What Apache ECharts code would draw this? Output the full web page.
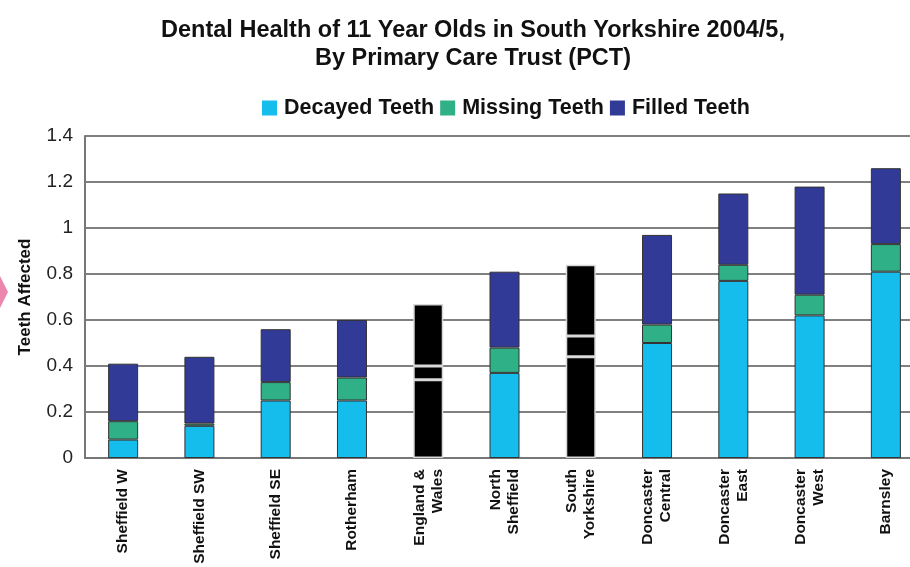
<!DOCTYPE html>
<html>
<head>
<meta charset="utf-8">
<script src="https://cdn.jsdelivr.net/npm/echarts@6/dist/echarts.min.js"></script>
<style>html,body{margin:0;padding:0;background:#fff;overflow:hidden;width:910px;height:567px;}#c{width:924px;height:567px;}</style>
</head>
<body>
<div id="c"></div>
<script>
const categories = ['Sheffield W','Sheffield SW','Sheffield SE','Rotherham','England &\nWales','North\nSheffield','South\nYorkshire','Doncaster\nCentral','Doncaster\nEast','Doncaster\nWest','Barnsley'];
const decayed = [0.08, 0.14, 0.25, 0.25, 0.34, 0.37, 0.44, 0.50, 0.77, 0.62, 0.81];
const missing = [0.08, 0.01, 0.08, 0.10, 0.06, 0.11, 0.09, 0.08, 0.07, 0.09, 0.12];
const filled  = [0.25, 0.29, 0.23, 0.25, 0.27, 0.33, 0.31, 0.39, 0.31, 0.47, 0.33];
const highlighted = ['England &\nWales', 'South\nYorkshire'];
const yTicks = [0, 0.2, 0.4, 0.6, 0.8, 1, 1.2, 1.4];

const colors = {decayed:'#14bdec', missing:'#2fb086', filled:'#313a97'};
const FONT = 'Liberation Sans, Arial, Helvetica';

function build(vals){
  return vals.map((v,i)=> highlighted.includes(categories[i])
    ? {value:v, itemStyle:{color:'#000', borderColor:'#d8d8d8', borderWidth:1.5}}
    : v);
}
function mkSeries(name, vals, color){
  return {name, type:'bar', stack:'t', data:build(vals), barWidth:30,
    itemStyle:{color, borderColor:'#333', borderWidth:1}};
}

const chart = echarts.init(document.getElementById('c'));
chart.setOption({
  animation:false,
  title:{text:'Dental Health of 11 Year Olds in South Yorkshire 2004/5,\nBy Primary Care Trust (PCT)',
    left:468, top:12, textAlign:'center',
    textStyle:{fontFamily:FONT, fontWeight:'bold', fontSize:23.5, color:'#111', lineHeight:28}},
  legend:{top:92, left:257, itemWidth:15, itemHeight:15, itemGap:6, icon:'rect',
    itemStyle:{borderWidth:0},
    textStyle:{fontFamily:FONT, fontWeight:'bold', fontSize:21.5, color:'#111', padding:[0,0,0,2]},
    data:['Decayed Teeth','Missing Teeth','Filled Teeth']},
  graphic:[{type:'polygon', shape:{points:[[0,276],[8,292],[0,308]]}, style:{fill:'#ec86ae'}}],
  grid:{left:85, top:136, right:0, height:322, containLabel:false},
  xAxis:{type:'category', data:categories,
    axisLine:{lineStyle:{color:'#777', width:2}}, axisTick:{show:false},
    axisLabel:{interval:0, rotate:90, margin:11, fontFamily:FONT, fontWeight:'bold', fontSize:15.5, color:'#111', lineHeight:18}},
  yAxis:{type:'value', min:yTicks[0], max:yTicks[yTicks.length-1], interval:0.2,
    name:'Teeth Affected', nameLocation:'middle', nameGap:51, nameRotate:90,
    nameTextStyle:{fontFamily:FONT, fontWeight:'bold', fontSize:17, color:'#111'},
    axisLine:{show:true, lineStyle:{color:'#777', width:2}}, axisTick:{show:false},
    axisLabel:{margin:12, fontFamily:FONT, fontSize:19, color:'#222'},
    splitLine:{lineStyle:{color:'#808080', width:2}}},
  series:[
    mkSeries('Decayed Teeth', decayed, colors.decayed),
    mkSeries('Missing Teeth', missing, colors.missing),
    mkSeries('Filled Teeth', filled, colors.filled)
  ]
});
</script>
</body>
</html>
